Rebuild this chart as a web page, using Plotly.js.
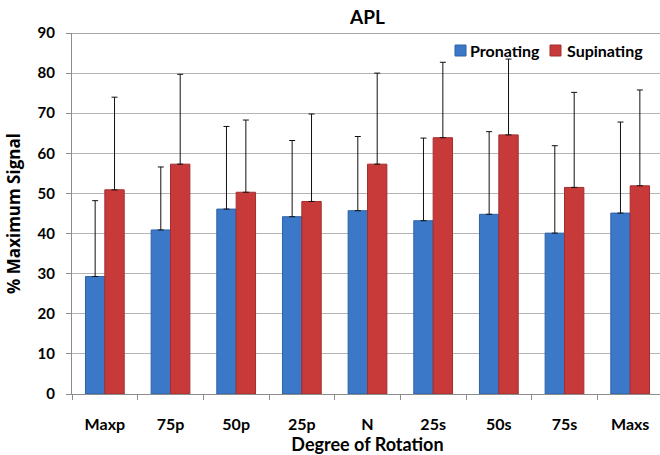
<!DOCTYPE html>
<html>
<head>
<meta charset="utf-8">
<script src="https://cdn.plot.ly/plotly-3.0.1.min.js"></script>
<style>
html,body{margin:0;padding:0;overflow:hidden;background:#fff;}
#chart{width:663px;height:455px;}
</style>
</head>
<body>
<div id="chart"></div>
<script>
const categories = ["Maxp","75p","50p","25p","N","25s","50s","75s","Maxs"];
const pronating = [29.3, 40.9, 46.1, 44.2, 45.7, 43.2, 44.8, 40.1, 45.1];
const pronatingErr = [18.9, 15.7, 20.6, 19.0, 18.5, 20.6, 20.6, 21.8, 22.7];
const supinating = [50.9, 57.3, 50.3, 48.0, 57.3, 63.9, 64.6, 51.5, 51.9];
const supinatingErr = [23.1, 22.4, 18.0, 21.8, 22.7, 18.8, 18.9, 23.7, 23.9];
const yTicks = [0,10,20,30,40,50,60,70,80,90];
const seriesNames = ["Pronating", "Supinating"];
const seriesColors = ["#3b78c8", "#c83a3a"];

const FONT = "Lato, 'Open Sans', sans-serif";

const traces = [
  {
    type: "bar", name: seriesNames[0], x: categories, y: pronating,
    marker: {color: seriesColors[0], line: {color: "#2f62a6", width: 1}},
    error_y: {type: "data", array: pronatingErr, arrayminus: pronating.map(() => 0),
              symmetric: false, color: "#111", thickness: 1, width: 3}
  },
  {
    type: "bar", name: seriesNames[1], x: categories, y: supinating,
    marker: {color: seriesColors[1], line: {color: "#a32e2e", width: 1}},
    error_y: {type: "data", array: supinatingErr, arrayminus: supinating.map(() => 0),
              symmetric: false, color: "#111", thickness: 1, width: 3}
  }
];

// custom compact legend (paper coords)
const W = 663, H = 455, L = 72, T = 33, B = 61;
const pw = W - L, ph = H - T - B;
const px = x => (x - L) / pw;
const py = y => (H - B - y) / ph;
const legendItems = [{sq: 455, tx: 468}, {sq: 550, tx: 565}];
const legendY = 51;
const shapes = [
  {type: "line", xref: "paper", yref: "y", x0: 0, x1: 1, y0: 90, y1: 90,
   line: {color: "#555", width: 1.2}}
];
const annotations = [];
legendItems.forEach((it, i) => {
  shapes.push({type: "rect", xref: "paper", yref: "paper",
    x0: px(it.sq), x1: px(it.sq + 11), y0: py(legendY + 5), y1: py(legendY - 6),
    fillcolor: seriesColors[i], line: {color: i ? "#a32e2e" : "#2f62a6", width: 1}});
  annotations.push({xref: "paper", yref: "paper", x: px(it.tx), y: py(legendY),
    xanchor: "left", yanchor: "middle", showarrow: false, text: "<b>" + seriesNames[i] + "</b>",
    font: {family: FONT, size: 16, color: "#000"}});
});

const layout = {
  width: W, height: H,
  margin: {l: L, r: 0, t: T, b: B},
  paper_bgcolor: "#fff", plot_bgcolor: "#fff",
  font: {family: FONT, color: "#000", size: 14},
  title: {text: "<b>APL</b>", x: 0.5, xref: "paper", y: 0.962, yanchor: "middle",
          font: {family: FONT, size: 19, color: "#000"}},
  barmode: "group", bargap: 0.41, bargroupgap: 0,
  showlegend: false,
  xaxis: {
    type: "category", showgrid: false, showline: true, linecolor: "#8c8c8c", linewidth: 1,
    ticks: "outside", tickson: "boundaries", ticklen: 5, tickcolor: "#8c8c8c",
    ticklabelstandoff: 16,
    tickfont: {family: FONT, size: 16, weight: 700},
    title: {text: "<b>Degree of Rotation</b>", standoff: 0, font: {family: FONT, size: 18}}
  },
  yaxis: {
    range: [0, 90], tickvals: yTicks, ticktext: yTicks.map(String),
    showgrid: true, gridcolor: "#b4b4b4", gridwidth: 1,
    showline: true, linecolor: "#8c8c8c", linewidth: 1,
    ticks: "outside", ticklen: 5, tickcolor: "#8c8c8c",
    ticklabelstandoff: 8,
    zeroline: false,
    tickfont: {family: FONT, size: 15, weight: 700},
    title: {text: "<b>% Maximum Signal</b>", standoff: 12, font: {family: "'Open Sans', sans-serif", size: 17}}
  },
  shapes: shapes,
  annotations: annotations
};

Plotly.newPlot("chart", traces, layout, {staticPlot: true, displayModeBar: false});
</script>
</body>
</html>
